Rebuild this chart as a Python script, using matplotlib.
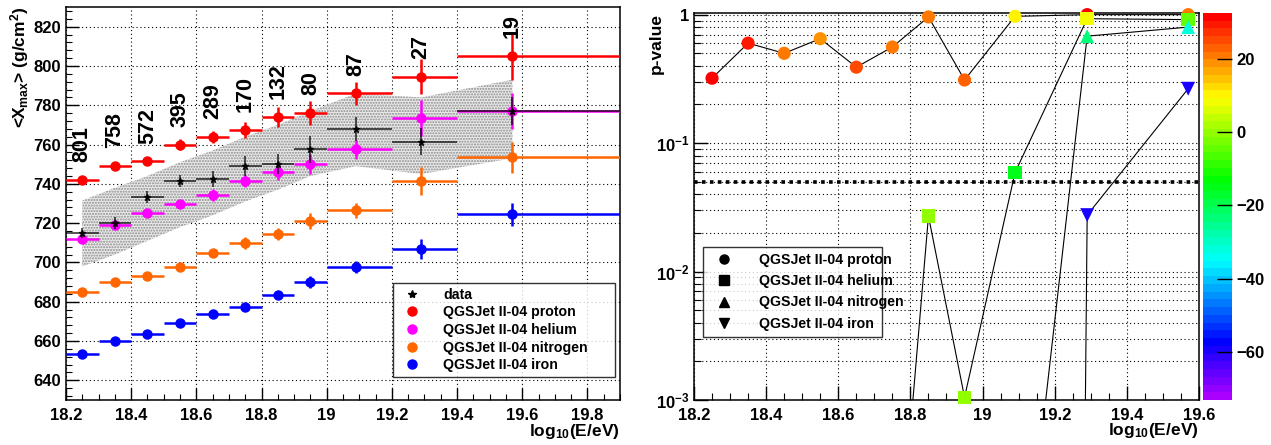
import numpy as np
import matplotlib
matplotlib.use("Agg")
import matplotlib.pyplot as plt
from matplotlib.colors import ListedColormap, Normalize
from matplotlib.lines import Line2D
from matplotlib.ticker import MultipleLocator, FuncFormatter, FixedLocator, LogLocator, NullFormatter
import colorsys

# ---------------- data ----------------
energy = [18.25, 18.35, 18.45, 18.55, 18.65, 18.75, 18.85, 18.95, 19.09, 19.29, 19.57]
bin_edges = [18.2, 18.3, 18.4, 18.5, 18.6, 18.7, 18.8, 18.9, 19.0, 19.2, 19.4, 19.9]
n_events = [801, 758, 572, 395, 289, 170, 132, 80, 87, 27, 19]

xmax_data = [715, 720, 733.5, 741.5, 742.5, 749, 750, 757.5, 768, 761.5, 777]
xmax_data_err = [2.5, 3, 3, 3, 4, 5, 5, 7, 6, 7, 7]
band_low = [698, 704, 711, 718, 724, 731, 737, 744, 749, 745, 753]
band_high = [731.5, 738, 744, 751, 757, 764, 770, 777, 786, 784, 793]

xmax_proton = [742, 749, 751.5, 760, 764, 767.5, 774, 776, 786, 794.5, 805]
xmax_proton_err = [1, 1.5, 2, 3, 3, 4, 5, 6, 6, 9, 12]
xmax_helium = [712, 719, 725, 730, 734.5, 741.5, 746, 750, 757.5, 773.5, 777]
xmax_helium_err = [2, 2, 2, 2, 3, 3, 4, 5, 5, 9, 9]
xmax_nitrogen = [685, 690, 693, 697.5, 705, 710, 714.5, 721, 726.5, 741.5, 753.5]
xmax_nitrogen_err = [1, 1, 1, 1.5, 2, 3, 3, 4, 4, 7, 8]
xmax_iron = [653.5, 660, 663.5, 669, 674, 677.5, 683.5, 690, 697.5, 707, 724.5]
xmax_iron_err = [1, 1, 1, 1.5, 1.5, 2, 2, 3, 3, 5, 6]

pval_proton = [0.32, 0.60, 0.50, 0.65, 0.39, 0.56, 0.96, 0.31, 0.97, 1.0, 1.0]
pval_helium = [1e-40, 1e-35, 1e-30, 1e-25, 1e-15, 1.3e-5, 0.027, 1.05e-3, 0.059, 0.93, 0.915]
pval_nitrogen = [1e-90, 1e-80, 1e-70, 1e-60, 1e-50, 1e-40, 1e-30, 1e-20, 8e-6, 0.68, 0.80]
pval_iron = [1e-200, 1e-190, 1e-180, 1e-170, 1e-160, 1e-150, 1e-120, 1e-100, 1e-60, 0.0275, 0.265]

dev_proton = [31, 30, 20, 19, 25, 21, 21, 22, 11, 32, 21]
dev_helium = [-3, -1, -8, -11, -8, -7, -1, -1, -14, 9, -5]
dev_nitrogen = [-30, -30, -40, -44, -38, -39, -35, -36, -42, -24, -31]
dev_iron = [-62, -60, -70, -72, -68, -72, -67, -67, -71, -60, -60]
dev_range = [-73, 32.4]

model_labels = ["QGSJet II-04 proton", "QGSJet II-04 helium",
                "QGSJet II-04 nitrogen", "QGSJet II-04 iron"]
model_colors = ["#ff0000", "#ff00ff", "#ff6600", "#0000ff"]
pvalue_markers = ["o", "s", "^", "v"]
pvalue_threshold = 0.05

# ---------------- style ----------------
plt.rcParams['font.family'] = ['Liberation Sans', 'DejaVu Sans']
plt.rcParams['font.weight'] = 'bold'
plt.rcParams['mathtext.fontset'] = 'custom'
plt.rcParams['mathtext.rm'] = 'Liberation Sans:bold'
plt.rcParams['mathtext.it'] = 'Liberation Sans:bold'
plt.rcParams['mathtext.bf'] = 'Liberation Sans:bold'
plt.rcParams['mathtext.default'] = 'rm'
plt.rcParams['axes.linewidth'] = 1.1

W, H = 1271, 445
fig = plt.figure(figsize=(W / 100, H / 100), dpi=100)

def frac(x0, y0, x1, y1):
    return [x0 / W, 1 - y1 / H, (x1 - x0) / W, (y1 - y0) / H]

grid_kw = dict(color='black', linestyle=(0, (1, 2.5)), linewidth=0.8)

# ---------------- left panel ----------------
ax = fig.add_axes(frac(66, 7, 620, 400))
ax.set_xlim(18.2, 19.9)
ax.set_ylim(630, 830)

x = np.array(energy)
edges = np.array(bin_edges)
xerr = np.vstack([x - edges[:-1], edges[1:] - x])

ax.fill_between(x, band_low, band_high, facecolor='#eaeaea', edgecolor='#8c8c8c',
                hatch='......', linewidth=0, zorder=1)

series = [(xmax_proton, xmax_proton_err), (xmax_helium, xmax_helium_err),
          (xmax_nitrogen, xmax_nitrogen_err), (xmax_iron, xmax_iron_err)]
for (vals, errs), col in zip(series, model_colors):
    ax.errorbar(x, vals, yerr=errs, xerr=xerr, fmt='o', color=col, ms=6.5,
                elinewidth=1.8, capsize=0, zorder=3)
ax.errorbar(x, xmax_data, yerr=xmax_data_err, xerr=xerr, fmt='*', color='black',
            ms=5, elinewidth=1.1, capsize=0, zorder=4, alpha=0.85)

for xi, yi, n in zip(energy, xmax_proton, n_events):
    ax.text(xi, yi + 9, str(n), rotation=90, ha='center', va='bottom',
            fontsize=15.5, fontweight='bold')

ax.xaxis.set_major_locator(MultipleLocator(0.2))
ax.xaxis.set_minor_locator(MultipleLocator(0.05))
ax.yaxis.set_major_locator(MultipleLocator(20))
ax.yaxis.set_minor_locator(MultipleLocator(4))
ax.xaxis.set_major_formatter(FuncFormatter(lambda v, p: f"{v:g}"))
ax.tick_params(which='both', direction='in', top=False, right=False, labelsize=12)
ax.tick_params(which='major', length=9, width=1)
ax.tick_params(which='minor', length=4.5, width=0.8)
ax.tick_params(axis='x', pad=6)
ax.grid(True, which='major', **grid_kw)
ax.set_axisbelow(True)

ax.set_ylabel(r'<X$_{max}$> (g/cm$^{2}$)', fontsize=12.5, fontweight='bold')
ax.yaxis.set_label_coords(-0.083, 1.0)
ax.yaxis.label.set_ha('right')
ax.yaxis.label.set_va('center')
ax.set_xlabel(r'log$_{10}$(E/eV)', fontsize=12.5, fontweight='bold')
ax.xaxis.set_label_coords(1.0, -0.055)
ax.xaxis.label.set_ha('right')
ax.xaxis.label.set_va('top')

handles = [Line2D([], [], marker='*', color='black', ls='none', ms=6)]
handles += [Line2D([], [], marker='o', color=c, ls='none', ms=6.5) for c in model_colors]
leg = ax.legend(handles, ["data"] + model_labels, loc='lower left',
                bbox_to_anchor=(0.590, 0.0585, 0.401, 0.2345), mode='expand',
                fontsize=10.2, frameon=True, fancybox=False, edgecolor='black',
                borderpad=0.35, labelspacing=0.25, handletextpad=1.2, borderaxespad=0)
leg.get_frame().set_linewidth(1.0)
for t in leg.get_texts():
    t.set_fontweight('bold')

# ---------------- right panel ----------------
ax2 = fig.add_axes(frac(694, 13, 1199, 400))
ax2.set_xlim(18.2, 19.6)
ax2.set_yscale('log')
ax2.set_ylim(1e-3, 1.03)

colors50 = [colorsys.hls_to_rgb((280 - 280 * i / 49) / 360.0, 0.5, 1.0) for i in range(50)]
cmap = ListedColormap(colors50)
norm = Normalize(vmin=dev_range[0], vmax=dev_range[1])

pvals = [pval_proton, pval_helium, pval_nitrogen, pval_iron]
devs = [dev_proton, dev_helium, dev_nitrogen, dev_iron]
sizes = [90, 95, 100, 100]
for k, (pv, dv, mk, sz) in enumerate(zip(pvals, devs, pvalue_markers, sizes)):
    ax2.plot(energy, pv, color='black', lw=0.8, zorder=3 + 2 * k)
    ax2.scatter(energy, pv, c=dv, cmap=cmap, norm=norm, marker=mk, s=sz,
                edgecolors='none', zorder=4 + 2 * k, clip_on=False)
ax2.axhline(pvalue_threshold, color='black', linestyle=(0, (1, 1.2)), linewidth=2.6, zorder=2)

ax2.xaxis.set_major_locator(MultipleLocator(0.2))
ax2.xaxis.set_minor_locator(MultipleLocator(0.05))
ax2.xaxis.set_major_formatter(FuncFormatter(lambda v, p: f"{v:g}"))
ax2.yaxis.set_major_locator(FixedLocator([1e-3, 1e-2, 1e-1, 1]))
ax2.yaxis.set_major_formatter(FuncFormatter(
    lambda v, p: '1' if abs(v - 1) < 1e-9 else r'$10^{%d}$' % round(np.log10(v))))
ax2.yaxis.set_minor_locator(LogLocator(base=10, subs=np.arange(2, 10), numticks=20))
ax2.yaxis.set_minor_formatter(NullFormatter())
ax2.tick_params(which='both', direction='in', top=False, right=False, labelsize=12)
ax2.tick_params(which='major', length=10, width=1)
ax2.tick_params(which='minor', length=5, width=0.8)
ax2.tick_params(axis='x', pad=6)
ax2.grid(True, which='major', **grid_kw)
ax2.grid(True, which='minor', axis='y', **grid_kw)
ax2.set_axisbelow(True)

ax2.set_ylabel('p-value', fontsize=12.5, fontweight='bold')
ax2.yaxis.set_label_coords(-0.075, 1.0)
ax2.yaxis.label.set_ha('right')
ax2.yaxis.label.set_va('center')
ax2.set_xlabel(r'log$_{10}$(E/eV)', fontsize=12.5, fontweight='bold')
ax2.xaxis.set_label_coords(1.0, -0.055)
ax2.xaxis.label.set_ha('right')
ax2.xaxis.label.set_va('top')

handles2 = [Line2D([], [], marker=m, color='black', ls='none', ms=6.5) for m in pvalue_markers]
leg2 = ax2.legend(handles2, model_labels, loc='lower left',
                  bbox_to_anchor=(0.0178, 0.163, 0.354, 0.225), mode='expand',
                  fontsize=10.2, frameon=True, fancybox=False, edgecolor='black',
                  borderpad=0.45, labelspacing=0.5, handletextpad=1.5, borderaxespad=0)
leg2.get_frame().set_linewidth(1.0)
leg2.set_zorder(20)

# colour bar
cax = fig.add_axes(frac(1203, 13, 1232, 400))
sm = plt.cm.ScalarMappable(norm=norm, cmap=cmap)
cb = fig.colorbar(sm, cax=cax)
cb.outline.set_visible(False)
cb.set_ticks([-60, -40, -20, 0, 20])
cax.tick_params(direction='in', length=11, width=1, labelsize=12, pad=3, color='black')

fig.savefig("out.png", dpi=100)
